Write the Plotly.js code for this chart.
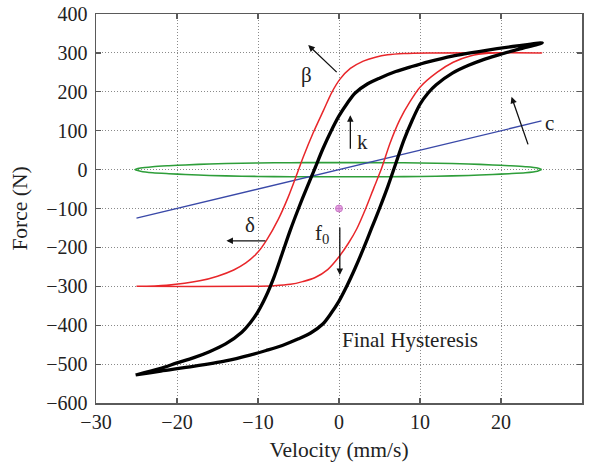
<!DOCTYPE html>
<html>
<head>
<meta charset="utf-8">
<script src="https://cdn.plot.ly/plotly-3.0.1.min.js"></script>
<style>html,body{margin:0;padding:0;background:#fff;}#chart{width:589px;height:466px;}</style>
</head>
<body>
<div id="chart"></div>
<script>
// Black (final hysteresis) loop: upper branch (decreasing velocity), lower branch (increasing)
const blackUpperX = [25.1, 22, 18, 14, 11, 9, 7, 5, 3.5, 2, 1, 0, -1, -2, -3, -4, -5, -6, -7, -8, -9, -10, -11, -12, -14, -16, -18, -20, -22, -25.1];
const blackUpperY = [326, 318, 306, 292, 277, 265, 252, 235, 220, 197, 170, 138, 98, 53, 2, -48, -100, -155, -215, -275, -325, -365, -395, -418, -448, -468, -484, -497, -511, -528];
const blackLowerX = [-25.1, -22, -18, -14, -11, -9, -7, -5, -3.5, -2, -1, 0, 1, 2, 3, 4, 5, 6, 7, 8, 9, 10, 11, 12, 14, 16, 18, 20, 22.5, 25.1];
const blackLowerY = [-528, -518, -506, -492, -477, -465, -452, -435, -420, -397, -370, -338, -298, -253, -204, -152, -100, -45, 15, 75, 125, 168, 197, 218, 248, 268, 284, 297, 311, 326];

// Red (Bouc-Wen component) loop
const redUpperX = [25, 11, 8, 6, 4.5, 3, 1.4, 0.1, -0.9, -1.9, -3.2, -4.4, -5.2, -6.3, -7.5, -8.9, -10, -11.5, -13, -15, -17.2, -21.3, -25];
const redUpperY = [300, 300, 298.5, 295, 289, 279, 260, 232, 198, 153, 94, 33, -12, -72, -128, -180, -212, -240, -258, -274, -286, -297, -300];
const redLowerX = [-25, -11, -8, -6, -4.5, -3, -1.4, 0, 1.2, 2.2, 3.3, 4.3, 5.2, 6.3, 7.5, 8.8, 10, 12.1, 14.1, 16.2, 18.5, 25];
const redLowerY = [-300, -300, -298.5, -295, -288, -278, -257, -224, -188, -152, -100, -47, 0, 68, 128, 176, 212, 250, 276, 292, 299, 300];

// Green (viscous) loop
const greenX = [-25.2, -24.5, -23, -21, -19, -16, -12, -8, -4, 0, 4, 8, 12, 16, 19, 21, 23, 24.5, 25];
const greenUpperY = [0, 4, 7.5, 10, 12, 14.5, 16.5, 17.5, 18, 18, 18, 17.5, 16.5, 14.5, 12, 10, 7.5, 4, 0];
const greenLowerY = [0, -4, -8, -10.5, -12.5, -15, -17, -18, -18.5, -18.5, -18.5, -18, -17, -15, -12.5, -10.5, -8, -4, 0];

// Blue (linear stiffness) line
const blueX = [-25, 25];
const blueY = [-125, 125];

// Offset point f0
const f0X = [0];
const f0Y = [-100];

const xTicks = [-30, -20, -10, 0, 10, 20, 30];
const yTicks = [-600, -500, -400, -300, -200, -100, 0, 100, 200, 300, 400];
const tickText = v => (v < 0 ? '\u2212' + Math.abs(v) : String(v));

const FONT = 'Liberation Serif, Times New Roman, serif';

const traces = [
  {x: greenX.concat(greenX.slice().reverse()), y: greenUpperY.concat(greenLowerY.slice().reverse()),
   mode: 'lines', line: {color: '#2e9e3a', width: 1.6, shape: 'spline', smoothing: 0.8}, hoverinfo: 'skip'},
  {x: blueX, y: blueY, mode: 'lines', line: {color: '#3a49a8', width: 1.3}, hoverinfo: 'skip'},
  {x: redUpperX.concat(redLowerX), y: redUpperY.concat(redLowerY),
   mode: 'lines', line: {color: '#e8262a', width: 1.5, shape: 'spline', smoothing: 0.8}, hoverinfo: 'skip'},
  {x: blackUpperX.concat(blackLowerX), y: blackUpperY.concat(blackLowerY),
   mode: 'lines', line: {color: '#000000', width: 3.3, shape: 'spline', smoothing: 0.8}, hoverinfo: 'skip'},
  {x: f0X, y: f0Y, mode: 'markers', marker: {symbol: 'circle-cross', size: 7, color: '#e7a3e3', line: {color: '#c97cc6', width: 1}}, hoverinfo: 'skip'}
];

function arrow(hx, hy, tx, ty) {
  return {x: hx, y: hy, ax: tx, ay: ty, xref: 'x', yref: 'y', axref: 'x', ayref: 'y',
          text: '', showarrow: true, arrowhead: 2, arrowsize: 1, arrowwidth: 1.3, arrowcolor: '#111', standoff: 0, startstandoff: 0};
}
function label(x, y, t) {
  return {x: x, y: y, xref: 'x', yref: 'y', text: t, showarrow: false, font: {family: FONT, size: 21, color: '#222'}};
}

const annotations = [
  arrow(-3.8, 320, -0.1, 247),
  arrow(1.4, 140, 1.4, 50),
  arrow(21.3, 187, 23.4, 61),
  arrow(-13.9, -183, -8.9, -183),
  arrow(0.1, -271, 0.1, -145),
  label(-4, 243, '\u03b2'),
  label(2.9, 72, 'k'),
  label(26, 121, 'c'),
  label(-11, -142, '\u03b4'),
  label(-2.1, -165, 'f<sub>0</sub>'),
  {x: 0.1, y: -438, xref: 'x', yref: 'y', xanchor: 'left', text: 'Final Hysteresis', showarrow: false,
   font: {family: FONT, size: 21, color: '#222'}}
];

const axisCommon = {
  showline: true, mirror: 'ticks', linecolor: '#5a5a5a', linewidth: 1.5,
  ticks: 'inside', ticklen: 5, tickcolor: '#5a5a5a', tickwidth: 1.2,
  showgrid: true, gridcolor: '#8a8a8a', griddash: '1px,2px', gridwidth: 1,
  zeroline: false, tickfont: {family: FONT, size: 20, color: '#222'}
};

const layout = {
  width: 589, height: 466,
  margin: {l: 96, r: 7, t: 14, b: 63},
  paper_bgcolor: '#fff', plot_bgcolor: '#fff',
  showlegend: false,
  xaxis: Object.assign({}, axisCommon, {range: [-30, 30], tickvals: xTicks, ticktext: xTicks.map(tickText),
    title: {text: 'Velocity (mm/s)', font: {family: FONT, size: 21.5, color: '#222'}, standoff: 10}}),
  yaxis: Object.assign({}, axisCommon, {range: [-600, 400], tickvals: yTicks, ticktext: yTicks.map(tickText),
    ticklabelstandoff: 3,
    title: {text: 'Force (N)', font: {family: FONT, size: 21.5, color: '#222'}, standoff: 12}}),
  annotations: annotations
};

Plotly.newPlot('chart', traces, layout, {displayModeBar: false, staticPlot: true});
</script>
</body>
</html>
